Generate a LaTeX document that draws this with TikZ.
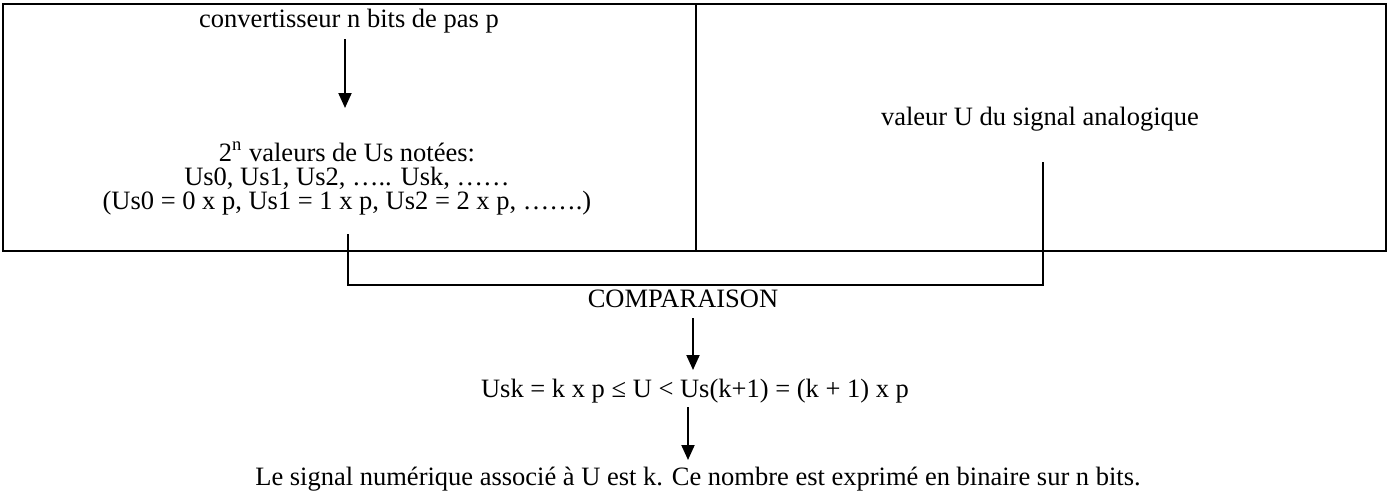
\documentclass[tikz,border=0pt]{standalone}
\usepackage{fontspec}
\setmainfont{Liberation Serif}
\usetikzlibrary{arrows.meta}
\newcommand\mytxtfont{\fontsize{13.25}{12}\selectfont\lineskiplimit=-20pt\relax\lineskip=0pt\relax}
\begin{document}
\begin{tikzpicture}[x=0.5pt,y=-0.5pt,
  txt/.style={inner sep=0pt,anchor=base,align=center,font=\mytxtfont},
  boxline/.style={line width=1.4pt},
  divline/.style={line width=1pt},
  link/.style={line width=0.8pt},
  arr/.style={line width=1pt,-{Triangle[length=7.5pt,width=6.5pt]}}]
\useasboundingbox (0,0) rectangle (1393,499);
% frame
\draw[boxline] (3,4) rectangle (1386,251);
\draw[divline] (696,4) -- (696,251);
% texts
\node[txt] (conv) at (349,27) {convertisseur n bits de pas p};
\node[txt] (vals) at (347,209) {2\textsuperscript{n} valeurs de Us notées:\\Us0, Us1, Us2, ….. Usk, ……\\(Us0 = 0 x p, Us1 = 1 x p, Us2 = 2 x p, …….)};
\node[txt] (ana) at (1040,125) {valeur U du signal analogique};
\node[txt] (comp) at (683,307) {COMPARAISON};
\node[txt] (ineq) at (695,397) {Usk = k x p ≤ U < Us(k+1) = (k + 1) x p};
\node[txt] (res) at (698,485) {Le signal numérique associé à U est k. Ce nombre est exprimé en binaire sur n bits.};
% connector coordinates
\coordinate (a1s) at (345,39);
\coordinate (a1e) at (345,108);
\coordinate (l1) at (348,234);
\coordinate (l2) at (348,285);
\coordinate (r2) at (1043,285);
\coordinate (r1) at (1043,162);
\coordinate (a2s) at (693,318);
\coordinate (a2e) at (693,370);
\coordinate (a3s) at (688,407);
\coordinate (a3e) at (688,460);
% connectors
\draw[arr] (a1s) -- (a1e);
\draw[link] (l1) -- (l2) -- (r2) -- (r1);
\draw[arr] (a2s) -- (a2e);
\draw[arr] (a3s) -- (a3e);
\end{tikzpicture}
\end{document}
